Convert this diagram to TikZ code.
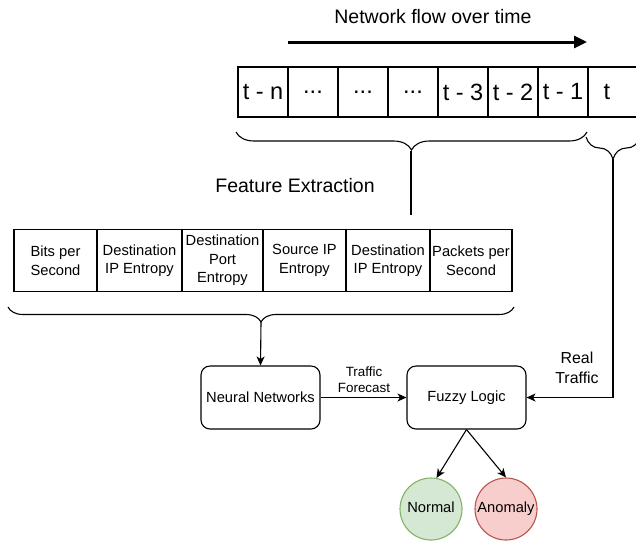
\documentclass[tikz,border=0pt]{standalone}
\usepackage{fontspec}
\setmainfont{Liberation Sans}
\usetikzlibrary{arrows.meta,decorations.pathreplacing}
\definecolor{okfill}{HTML}{D5E8D4}
\definecolor{okline}{HTML}{82B366}
\definecolor{badfill}{HTML}{F8CECC}
\definecolor{badline}{HTML}{B85450}
\begin{document}
\begin{tikzpicture}[x=1pt,y=-1pt,line width=1.1pt,
  big/.style={font=\fontsize{19.5}{23}\selectfont},
  cellfont/.style={font=\fontsize{23.5}{27}\selectfont},
  mid/.style={font=\fontsize{14.7}{18.5}\selectfont},
  cellbox/.style={draw,minimum width=50pt,minimum height=50pt,inner sep=0pt,cellfont},
  featbox/.style={draw,minimum height=62pt,inner sep=0pt,align=center,mid},
  procbox/.style={draw,rounded corners=9pt,minimum width=119pt,minimum height=63pt,inner sep=0pt,mid},
  outc/.style={circle,minimum size=62pt,inner sep=0pt,text height=10.5pt,text depth=3pt,mid},
  arr/.style={-{Stealth[length=9pt,width=8pt,inset=2.5pt]}},
  brc/.style={decorate,decoration={brace,mirror,amplitude=#1}}]
\useasboundingbox (0,0) rectangle (636,542);

% title and time arrow
\node[big] (title) at (433,17) {Network flow over time};
\coordinate (ta) at (288,42);
\coordinate (tb) at (587,42);
\draw[line width=3pt,-{Triangle[length=13pt,width=12pt]}] (ta) -- (tb);

% timeline cells
\node[cellbox] (c1) at (263,92) {t - n};
\node[cellbox] (c2) at (313,92) {...};
\node[cellbox] (c3) at (363,92) {...};
\node[cellbox] (c4) at (413,92) {...};
\node[cellbox] (c5) at (463,92) {t - 3};
\node[cellbox] (c6) at (513,92) {t - 2};
\node[cellbox] (c7) at (563,92) {t - 1};
\node[draw,minimum width=52pt,minimum height=50pt,inner sep=0pt] (c8) at (614,92) {};
\node[cellfont] (tnow) at (607,92) {t};

% braces under timeline
\coordinate (b1a) at (236,132);
\coordinate (b1b) at (587,132);
\draw[brc=18pt] (b1a) -- (b1b);
\coordinate (b1t) at (411,151);
\coordinate (b1e) at (411,215);
\draw[line width=2.5pt] (b1t) -- (b1e);

\coordinate (b2a) at (586,137);
\coordinate (b2b) at (640,137);
\draw[brc=22pt] (b2a) -- (b2b);

\node[big] (fe) at (295,186) {Feature Extraction};

% feature table
\node[featbox,minimum width=83pt] (f1) at (55.5,260.5) {Bits per\\Second};
\node[featbox,minimum width=85pt] (f2) at (139.5,260.5) {Destination\\IP Entropy};
\node[featbox,minimum width=81pt] (f3) at (222.5,260.5) {Destination\\Port\\Entropy};
\node[featbox,minimum width=83pt] (f4) at (304.5,260.5) {Source IP\\Entropy};
\node[featbox,minimum width=84pt] (f5) at (388,260.5) {Destination\\IP Entropy};
\node[featbox,minimum width=82pt] (f6) at (471,260.5) {Packets per\\Second};

\coordinate (b3a) at (8,307);
\coordinate (b3b) at (514,307);
\draw[brc=15pt] (b3a) -- (b3b);
\coordinate (b3t) at (261,322);

% processing boxes
\node[procbox] (nn) at (260.5,397.5) {Neural Networks};
\node[procbox] (fl) at (466.5,397.5) {Fuzzy Logic};

\draw[arr] (b3t) -- (nn.north);
\draw[arr] (nn.east) -- (fl.west);
\node[font=\fontsize{13.4}{16}\selectfont,align=center] (tf) at (364,380) {Traffic\\Forecast};

\coordinate (b2t) at (613,159);
\draw[arr] (b2t) |- (fl.east);
\node[font=\fontsize{15.9}{20}\selectfont,align=center] (rt) at (577,368) {Real\\Traffic};

% outcomes
\node[outc,draw=okline,fill=okfill] (nrm) at (431,509) {Normal};
\node[outc,draw=badline,fill=badfill] (anm) at (506,509) {Anomaly};
\draw[arr] (fl.south) -- (nrm.80);
\draw[arr] (fl.south) -- (anm.north);
\end{tikzpicture}
\end{document}
